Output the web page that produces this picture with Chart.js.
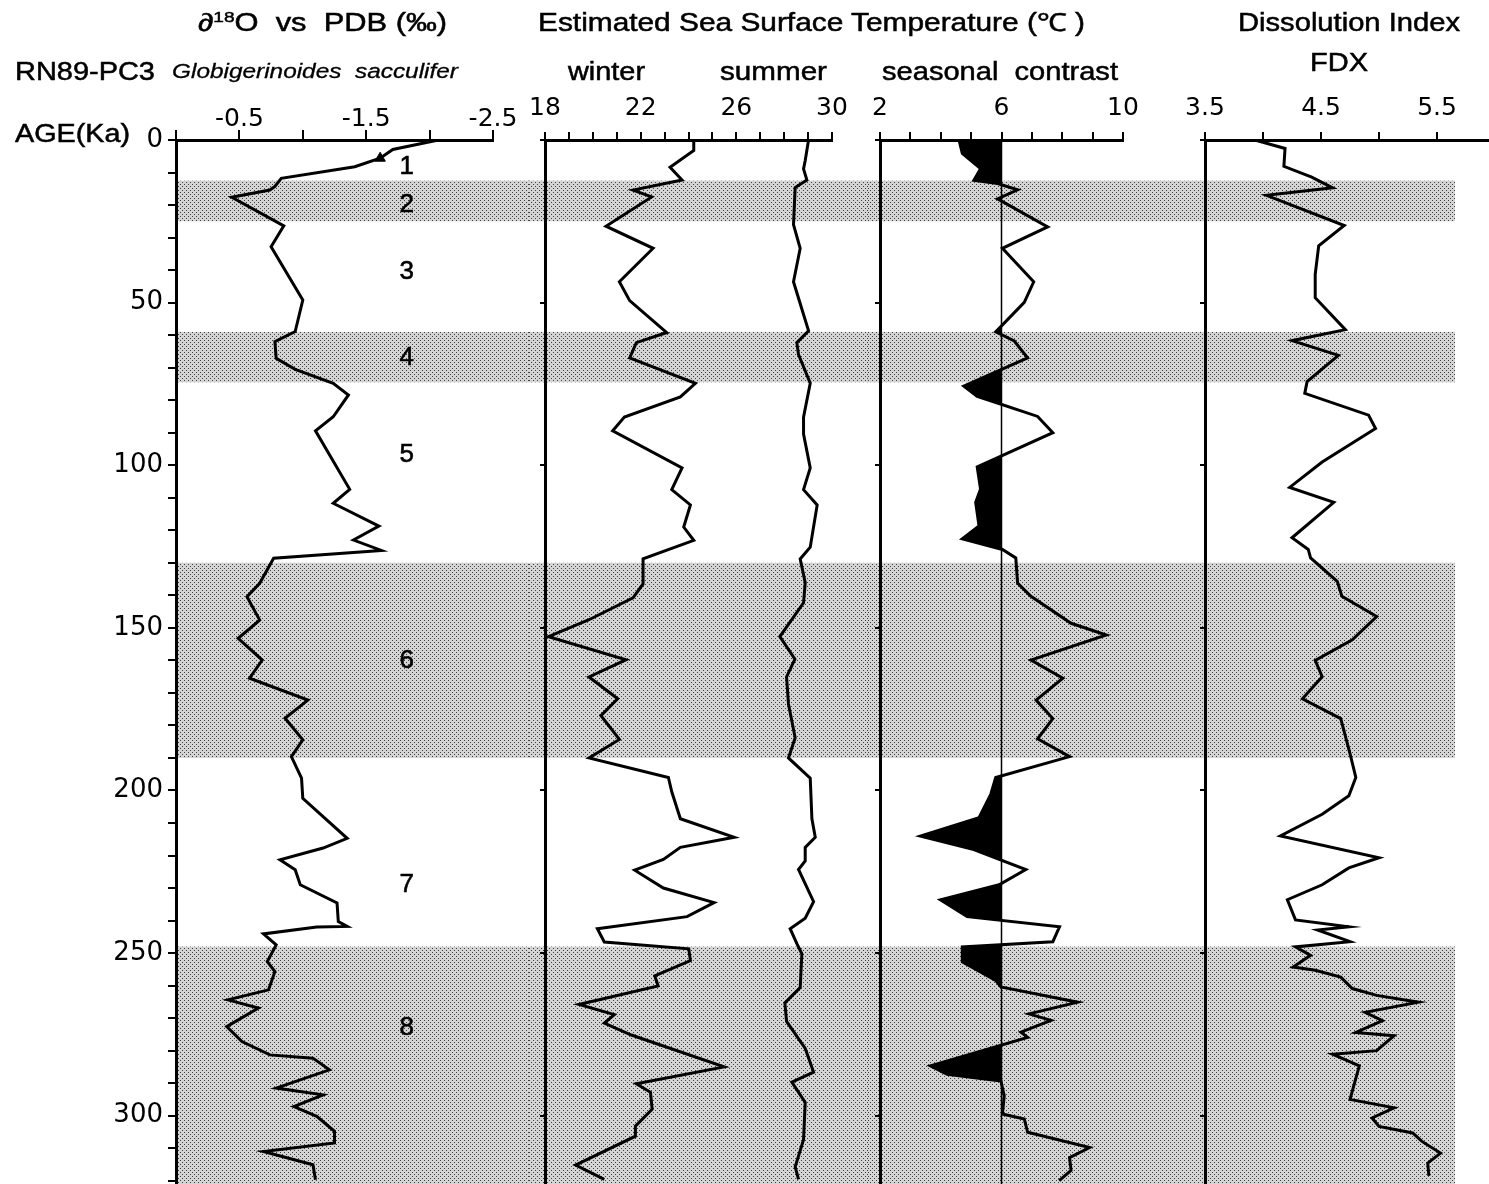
<!DOCTYPE html>
<html>
<head>
<meta charset="utf-8">
<script src="https://cdn.jsdelivr.net/npm/chart.js@4.4.1/dist/chart.umd.min.js"></script>
<style>
  body { margin: 0; background: #fff; }
  #fig { position: relative; width: 1489px; height: 1184px; overflow: hidden; background: #fff; }
  canvas { position: absolute; top: 0; }
  .t { position: absolute; white-space: nowrap; font-family: "Liberation Sans", Arial, sans-serif;
       font-size: 25px; line-height: 1; color: #000; transform-origin: 0 50%;
       -webkit-text-stroke: 0.5px #000; }
  .t sup { font-size: 0.62em; line-height: 0; vertical-align: 0.6em; }
  .it { font-style: italic; font-size: 20px; -webkit-text-stroke: 0.3px #000; }
</style>
</head>
<body>
<div id="fig">
  <canvas id="iso" width="529" height="1184" style="left:0px"></canvas>
  <canvas id="sst" width="339" height="1184" style="left:529px"></canvas>
  <canvas id="contrast" width="312" height="1184" style="left:868px"></canvas>
  <canvas id="fdx" width="309" height="1184" style="left:1180px"></canvas>

  <div class="t" data-w="249" style="left:198px;top:10px">∂<sup>18</sup>O&nbsp; vs&nbsp; PDB (‰)</div>
  <div class="t" data-w="140" style="left:15px;top:59px">RN89-PC3</div>
  <div class="t it" data-w="286" style="left:172px;top:61px">Globigerinoides&nbsp; sacculifer</div>
  <div class="t" data-w="115" style="left:15px;top:121px">AGE(Ka)</div>
  <div class="t" data-w="547" style="left:538px;top:10px">Estimated Sea Surface Temperature (℃ )</div>
  <div class="t" data-w="77" style="left:568px;top:59px">winter</div>
  <div class="t" data-w="107" style="left:720px;top:59px">summer</div>
  <div class="t" data-w="236" style="left:882px;top:59px">seasonal&nbsp; contrast</div>
  <div class="t" data-w="222" style="left:1238px;top:10px">Dissolution Index</div>
  <div class="t" data-w="58" style="left:1310px;top:50px">FDX</div>
</div>

<script>
// oxygen isotope record, G. sacculifer (per mil vs PDB)
const isoAge = [0, 2.9, 5.6, 8.2, 11.8, 14.3, 15.4, 17.6, 26.4, 32.8, 49.2, 58.9, 62.0, 67.1, 70.5,
  74.8, 78.4, 85.1, 89.4, 107.4, 111.7, 118.7, 123.0, 126.2, 128.6, 136.3, 140.4, 147.6, 153.2, 159.9,
  165.5, 172.2, 177.8, 184.4, 189.6, 196.2, 202.4, 214.7, 217.7, 221.3, 224.4, 229.0, 234.6, 240.3, 241.8,
  242.0, 244.1, 247.5, 252.6, 255.7, 261.3, 264.4, 266.9, 272.6, 277.2, 281.3, 282.3, 285.9, 291.5, 293.6,
  297.2, 300.2, 304.8, 308.4, 311.0, 315.1, 319.7];
const isoValue = [-2.07, -1.71, -1.61, -1.41, -0.83, -0.78, -0.74, -0.44, -0.85, -0.75, -1.00, -0.94, -0.78, -0.79, -0.94,
  -1.24, -1.36, -1.24, -1.10, -1.37, -1.24, -1.60, -1.40, -1.62, -0.77, -0.66, -0.56, -0.66, -0.49, -0.68,
  -0.58, -1.04, -0.86, -1.00, -0.91, -0.99, -1.00, -1.35, -1.16, -0.82, -0.94, -0.98, -1.27, -1.28, -1.35,
  -1.11, -0.69, -0.79, -0.72, -0.78, -0.73, -0.41, -0.65, -0.40, -0.52, -0.74, -1.08, -1.21, -0.79, -1.16,
  -0.93, -1.11, -1.25, -1.25, -0.69, -1.08, -1.10];

// estimated SST (deg C)
const winterAge = [0, 3.2, 8.4, 12.3, 15.4, 17.5, 26.5, 33.3, 43.6, 49.4, 59.2, 62.3, 67.0, 74.8, 79.0,
  85.2, 89.4, 100.8, 107.5, 112.2, 119.0, 123.1, 128.8, 136.5, 140.8, 147.5, 152.7, 159.8, 165.1, 171.8,
  177.0, 184.3, 190.0, 196.0, 200.4, 208.7, 214.4, 217.5, 221.2, 224.5, 230.0, 234.5, 238.8, 242.5, 246.6,
  248.7, 252.3, 257.0, 260.1, 265.8, 268.9, 271.5, 275.2, 285.0, 290.2, 292.8, 298.0, 303.2, 306.3, 315.2, 319.6];
const winterSST = [24.22, 24.22, 23.23, 23.73, 21.68, 22.46, 20.55, 22.52, 21.11, 21.54, 23.09, 21.82, 21.54, 24.29, 23.66,
  21.32, 20.83, 23.73, 23.30, 24.08, 23.80, 24.22, 22.10, 22.10, 21.68, 19.84, 18.15, 21.39, 19.84, 21.04,
  20.34, 21.11, 19.84, 23.16, 23.30, 23.66, 25.91, 23.66, 22.95, 21.75, 22.95, 25.07, 23.94, 20.19, 20.48,
  24.01, 24.08, 22.59, 22.73, 19.42, 20.90, 20.48, 21.61, 25.49, 21.82, 22.41, 22.48, 21.78, 21.78, 19.28, 20.48];

const summerAge = [0, 6.3, 8.9, 12.3, 14.6, 26.0, 33.3, 43.6, 58.7, 62.3, 66.0, 74.8, 85.2, 90.4, 100.8,
  107.5, 112.2, 125.2, 128.8, 136.1, 142.3, 152.7, 159.6, 165.1, 173.4, 183.8, 190.0, 196.2, 208.7, 214.4,
  217.5, 221.7, 224.3, 234.2, 239.3, 242.5, 247.1, 250.2, 260.6, 265.3, 271.0, 279.3, 286.6, 289.7, 295.9,
  307.4, 315.7, 319.6];
const summerSST = [29.02, 28.88, 28.81, 28.95, 28.46, 28.39, 28.67, 28.39, 29.02, 28.53, 28.60, 29.09, 28.81, 28.81, 29.09,
  28.81, 29.38, 29.09, 28.67, 28.88, 28.81, 27.82, 28.45, 28.10, 28.18, 28.46, 28.18, 29.09, 29.16, 29.30,
  28.88, 28.88, 28.60, 29.23, 28.88, 28.25, 28.53, 28.74, 28.67, 28.03, 28.10, 28.88, 29.23, 28.32, 28.88,
  28.81, 28.46, 28.60];

// seasonal contrast (summer - winter, deg C)
const contrastAge = [0, 4.1, 8.8, 12.4, 13.4, 15.3, 18.1, 26.7, 33.3, 43.6, 49.9, 59.0, 61.8, 67.0, 75.7,
  78.8, 85.0, 90.0, 100.5, 107.3, 111.4, 118.7, 122.6, 125.9, 128.5, 136.2, 140.3, 148.6, 152.2, 159.9,
  165.5, 172.2, 177.9, 184.1, 189.6, 196.0, 201.1, 208.4, 214.0, 218.2, 224.3, 229.0, 233.6, 238.8, 241.9,
  246.5, 248.1, 252.7, 258.4, 260.4, 265.1, 268.7, 270.7, 274.3, 275.9, 284.7, 287.3, 289.3, 293.9, 299.5,
  301.0, 305.1, 309.8, 312.9, 316.8, 320.0];
const contrast = [4.60, 4.71, 5.31, 5.09, 5.87, 6.53, 5.87, 7.52, 6.03, 7.06, 6.75, 5.81, 6.42, 6.86, 4.76,
  5.20, 7.19, 7.69, 5.20, 5.31, 5.15, 5.26, 4.71, 6.03, 6.47, 6.53, 6.97, 8.29, 9.45, 6.97,
  8.02, 7.14, 7.69, 7.19, 8.24, 5.81, 5.65, 5.26, 3.33, 5.09, 6.80, 5.92, 3.99, 4.87, 7.91,
  7.69, 4.71, 4.71, 5.81, 5.98, 8.51, 6.91, 7.63, 6.64, 6.86, 3.66, 4.21, 5.98, 6.09, 6.03,
  6.75, 6.86, 8.90, 8.24, 8.29, 7.90];
const contrastBase = 6;

// foraminiferal dissolution index
const fdxAge = [0, 2.6, 8.1, 11.4, 14.7, 17.0, 26.3, 32.5, 41.3, 48.5, 58.3, 61.7, 66.2, 74.3, 77.9,
  84.6, 88.7, 99.0, 106.8, 111.4, 122.3, 125.9, 128.5, 135.7, 140.3, 146.5, 153.7, 160.0, 165.0, 171.8,
  177.9, 188.7, 196.0, 201.6, 207.3, 214.0, 220.7, 223.8, 229.0, 233.6, 239.8, 241.9, 242.9, 246.5, 248.1,
  250.7, 254.3, 255.3, 257.4, 260.9, 263.0, 265.1, 268.2, 270.8, 274.4, 275.4, 280.0, 281.1, 284.7, 295.0,
  297.6, 300.7, 303.3, 305.3, 307.9, 311.5, 314.6, 318.5];
const fdx = [3.93, 4.19, 4.18, 4.42, 4.60, 4.03, 4.70, 4.48, 4.45, 4.45, 4.71, 4.25, 4.65, 4.38, 4.36,
  4.91, 4.97, 4.51, 4.23, 4.61, 4.25, 4.39, 4.41, 4.64, 4.68, 4.98, 4.77, 4.45, 4.51, 4.34,
  4.67, 4.75, 4.80, 4.74, 4.51, 4.15, 5.00, 4.74, 4.51, 4.21, 4.28, 4.74, 4.47, 4.75, 4.28,
  4.41, 4.26, 4.45, 4.67, 4.77, 4.98, 5.34, 4.88, 5.03, 4.80, 5.13, 4.98, 4.60, 4.83, 4.75,
  5.13, 4.94, 5.00, 5.29, 5.37, 5.53, 5.42, 5.43];

// glacial stages (shaded) and isotope stage numbers
const glacialTop = [12.5, 59, 130, 248];
const glacialBottom = [25, 74.5, 190, 330];
const stageName = ['1', '2', '3', '4', '5', '6', '7', '8'];
const stageAge = [8.2, 20, 40.5, 67, 96.8, 160, 229, 273];
const stageX = -1.82;

const ageMax = 321;
const tickFont = { family: 'DejaVu Sans', size: 25 };

function pts(ages, vals) {
  return ages.map((a, i) => ({ x: vals[i], y: a }));
}

function stipple(ctx) {
  const c = document.createElement('canvas');
  c.width = 4; c.height = 4;
  const g = c.getContext('2d');
  g.fillStyle = '#d4d4d4';
  g.fillRect(0, 0, 4, 4);
  g.fillStyle = '#404040';
  g.fillRect(0, 0, 1, 1);
  g.fillRect(2, 2, 1, 1);
  return ctx.createPattern(c, 'repeat');
}

const bands = {
  id: 'bands',
  beforeDraw(chart, args, opts) {
    const { ctx, chartArea, scales: { y } } = chart;
    const x0 = opts.fromArea ? chartArea.left : 0;
    const x1 = opts.to != null ? opts.to : chart.width;
    ctx.save();
    ctx.fillStyle = stipple(ctx);
    glacialTop.forEach((t, i) => {
      const yt = y.getPixelForValue(t);
      const yb = y.getPixelForValue(Math.min(glacialBottom[i], ageMax));
      ctx.fillRect(x0, yt, x1 - x0, yb - yt);
    });
    ctx.restore();
  }
};

const stages = {
  id: 'stages',
  afterDatasetsDraw(chart) {
    const { ctx, scales: { x, y } } = chart;
    ctx.save();
    ctx.font = '26px "Liberation Sans", Arial, sans-serif';
    ctx.fillStyle = '#000';
    ctx.strokeStyle = '#000';
    ctx.lineWidth = 0.6;
    ctx.textAlign = 'center';
    ctx.textBaseline = 'middle';
    stageName.forEach((s, i) => {
      const px = x.getPixelForValue(stageX), py = y.getPixelForValue(stageAge[i]);
      ctx.fillText(s, px, py);
      ctx.strokeText(s, px, py);
    });
    ctx.restore();
  }
};

// black fill where the seasonal contrast is below the 6 degree line
const contrastFill = {
  id: 'contrastFill',
  beforeDatasetsDraw(chart) {
    const { ctx, chartArea, scales: { x } } = chart;
    const p = chart.getDatasetMeta(0).data;
    const xb = x.getPixelForValue(contrastBase);
    ctx.save();
    ctx.beginPath();
    ctx.rect(chartArea.left, chartArea.top, xb - chartArea.left, chartArea.height);
    ctx.clip();
    ctx.beginPath();
    ctx.moveTo(xb, p[0].y);
    p.forEach(pt => ctx.lineTo(pt.x, pt.y));
    ctx.lineTo(xb, p[p.length - 1].y);
    ctx.closePath();
    ctx.fillStyle = '#000';
    ctx.fill();
    ctx.restore();
    ctx.save();
    ctx.strokeStyle = '#000';
    ctx.lineWidth = 1.5;
    ctx.beginPath();
    ctx.moveTo(xb, chartArea.top);
    ctx.lineTo(xb, chartArea.bottom);
    ctx.stroke();
    ctx.restore();
  }
};

function panel(id, c) {
  const near = (v, list) => list.some(l => Math.abs(l - v) < 1e-6);
  return new Chart(document.getElementById(id), {
    type: 'line',
    data: { datasets: c.datasets },
    options: {
      responsive: false,
      animation: false,
      indexAxis: 'y',
      layout: { padding: { left: 0, right: c.padRight, top: 0, bottom: 0 } },
      elements: {
        point: { radius: 0 },
        line: { borderWidth: 3, borderColor: '#000', tension: 0, fill: false }
      },
      plugins: {
        legend: { display: false },
        tooltip: { enabled: false },
        bands: c.bands
      },
      scales: {
        x: {
          type: 'linear',
          position: 'top',
          min: c.xMin, max: c.xMax, reverse: !!c.xReverse,
          afterBuildTicks: a => { a.ticks = c.xTicks.map(v => ({ value: v })); },
          afterFit: a => { a.height = 140; a.paddingLeft = 0; a.paddingRight = 0; },
          grid: { drawOnChartArea: false, drawTicks: true, tickLength: c.xTickLen, color: '#000', lineWidth: 2 },
          border: { display: true, color: '#000', width: 3 },
          ticks: {
            autoSkip: false, maxRotation: 0, padding: c.xPad, color: '#000', font: tickFont,
            callback: v => near(v, c.xLabels) ? c.fmt(v) : ''
          }
        },
        y: {
          type: 'linear',
          position: 'left',
          min: 0, max: ageMax, reverse: true,
          afterBuildTicks: a => {
            const t = [];
            for (let v = 0; v <= ageMax; v += c.yStep) t.push({ value: v });
            a.ticks = t;
          },
          afterFit: a => { a.width = c.yWidth; a.paddingTop = 0; a.paddingBottom = 0; },
          grid: { drawOnChartArea: false, drawTicks: true, tickLength: c.yTickLen, color: '#000', lineWidth: 2 },
          border: { display: true, color: '#000', width: 3 },
          ticks: {
            autoSkip: false, padding: 5, color: '#000', font: { family: 'DejaVu Sans', size: 26 },
            callback: v => (c.yLabels && v % 50 === 0) ? String(v) : ''
          }
        }
      }
    },
    plugins: [bands].concat(c.plugins || [])
  });
}

panel('iso', {
  datasets: [{
    data: pts(isoAge, isoValue),
    pointRadius: ctx => ctx.dataIndex === 2 ? 6 : 0,
    pointStyle: 'triangle',
    pointBackgroundColor: '#000',
    pointBorderColor: '#000'
  }],
  xMin: -2.5, xMax: 0, xReverse: true,
  xTicks: [0, -0.5, -1, -1.5, -2, -2.5], xLabels: [-0.5, -1.5, -2.5], fmt: v => v.toFixed(1),
  xTickLen: 10, xPad: -4,
  yWidth: 176, yStep: 10, yTickLen: 8, yLabels: true,
  padRight: 36,
  bands: { fromArea: true },
  plugins: [stages]
});

panel('sst', {
  datasets: [
    { data: pts(winterAge, winterSST) },
    { data: pts(summerAge, summerSST) }
  ],
  xMin: 18, xMax: 30,
  xTicks: [18, 19, 20, 21, 22, 23, 24, 25, 26, 27, 28, 29, 30], xLabels: [18, 22, 26, 30], fmt: v => String(v),
  xTickLen: 8, xPad: 9,
  yWidth: 16, yStep: 50, yTickLen: 5,
  padRight: 36,
  bands: {}
});

panel('contrast', {
  datasets: [{ data: pts(contrastAge, contrast) }],
  xMin: 2, xMax: 10,
  xTicks: [2, 3, 4, 5, 6, 7, 8, 9, 10], xLabels: [2, 6, 10], fmt: v => String(v),
  xTickLen: 8, xPad: 9,
  yWidth: 12, yStep: 50, yTickLen: 5,
  padRight: 57,
  bands: {},
  plugins: [contrastFill]
});

panel('fdx', {
  datasets: [{ data: pts(fdxAge, fdx) }],
  xMin: 3.5, xMax: 5.948,
  xTicks: [3.5, 4, 4.5, 5, 5.5], xLabels: [3.5, 4.5, 5.5], fmt: v => v.toFixed(1),
  xTickLen: 8, xPad: 9,
  yWidth: 25, yStep: 50, yTickLen: 5,
  padRight: 0,
  bands: { to: 275 }
});

// stretch header texts to the widths used in the figure
document.querySelectorAll('.t').forEach(el => {
  const w = el.getBoundingClientRect().width;
  el.style.transform = 'scaleX(' + (Number(el.dataset.w) / w).toFixed(3) + ')';
});
</script>
</body>
</html>
